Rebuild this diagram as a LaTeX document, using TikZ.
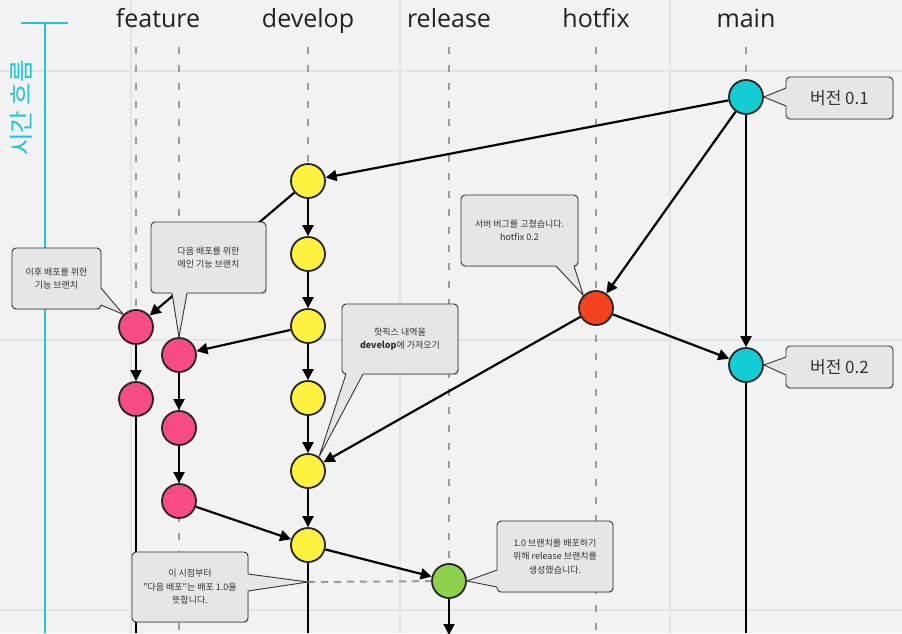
\documentclass[tikz,border=0pt]{standalone}
\usepackage{fontspec}
\setmainfont{Open Sans}
\newfontfamily\kr{Noto Sans CJK KR}
\usetikzlibrary{arrows.meta,calc,shadows}

\definecolor{bgc}{HTML}{F2F2F2}
\definecolor{gridc}{HTML}{E4E4E4}
\definecolor{lanec}{HTML}{9C9C9C}
\definecolor{axisc}{HTML}{19C9D3}
\definecolor{cmain}{HTML}{14CCD4}
\definecolor{cdev}{HTML}{FFF23F}
\definecolor{cfeat}{HTML}{F74B86}
\definecolor{chot}{HTML}{F4431F}
\definecolor{crel}{HTML}{8DD14C}
\definecolor{cofill}{HTML}{E6E6E6}
\definecolor{coline}{HTML}{333333}
\definecolor{cotext}{HTML}{333333}

\newcommand\cpointer[3]{%
  \fill[cofill] ($#1!-2.5pt!#3$) -- #3 -- ($#2!-2.5pt!#3$) -- cycle;
  \draw[coline, line width=0.9pt, line join=miter] #1 -- #3 -- #2;}

\begin{document}
\begin{tikzpicture}[x=1pt,y=-1pt,
  commit/.style={circle, draw=black!85, line width=1.8pt, minimum size=34pt, inner sep=0pt},
  arr/.style={draw=black, line width=2.2pt, -{Triangle[length=11pt,width=11pt]}},
  plain/.style={draw=black, line width=2.2pt},
  lane/.style={draw=lanec, line width=2pt, dash pattern=on 7pt off 11pt},
  gridline/.style={draw=gridc, line width=1.5pt},
  header/.style={font=\fontsize{25}{25}\selectfont, text=black!87, anchor=base},
  cobox/.style={draw=coline, line width=0.9pt, fill=cofill, rounded corners=4pt,
    font=\kr\fontsize{9}{13.5}\selectfont, text=cotext, align=center, inner sep=0pt,
    drop shadow={shadow xshift=0.8pt, shadow yshift=-1.2pt, opacity=0.25}},
  bigbox/.style={cobox, font=\kr\fontsize{17}{17}\selectfont}]

\fill[bgc] (0,0) rectangle (902,633);
\useasboundingbox (0,0) rectangle (902,633);

% grid
\foreach \gx in {131,400,670} \draw[gridline] (\gx,0) -- (\gx,633);
\foreach \gy in {71,340,610} \draw[gridline] (0,\gy) -- (902,\gy);

% lanes
\foreach \lx in {136,179,308,449,596,746} \draw[lane] (\lx,47) -- (\lx,633);

% time axis
\draw[axisc, line width=2pt] (21,23) -- (68,23);
\draw[axisc, line width=2pt] (45,23) -- (45,633);
\fill[axisc] (45,107) circle (1.6pt);
\node[rotate=90, text=axisc, font=\kr\fontsize{24.5}{24.5}\selectfont] (tlabel) at (21,108) {시간 흐름};

% headers
\node[header] (hfeat) at (158,27) {feature};
\node[header] (hdev) at (308,27) {develop};
\node[header] (hrel) at (449,27) {release};
\node[header] (hhot) at (596,27) {hotfix};
\node[header] (hmain) at (746,27) {main};

% commits
\node[commit, fill=cmain] (m1) at (746,97) {};
\node[commit, fill=cmain] (m2) at (746,365) {};
\node[commit, fill=cdev] (d1) at (308,181) {};
\node[commit, fill=cdev] (d2) at (308,254) {};
\node[commit, fill=cdev] (d3) at (308,326) {};
\node[commit, fill=cdev] (d4) at (308,398) {};
\node[commit, fill=cdev] (d5) at (308,471) {};
\node[commit, fill=cdev] (d6) at (308,545) {};
\node[commit, fill=chot] (h1) at (596,308) {};
\node[commit, fill=cfeat] (f1) at (136,327) {};
\node[commit, fill=cfeat] (f2) at (136,399) {};
\node[commit, fill=cfeat] (g1) at (179,355) {};
\node[commit, fill=cfeat] (g2) at (179,428) {};
\node[commit, fill=cfeat] (g3) at (179,501) {};
\node[commit, fill=crel] (r1) at (449,581) {};

\coordinate (fb) at (136,633);
\coordinate (db) at (308,633);
\coordinate (rb) at (449,635);
\coordinate (mb) at (746,633);
\coordinate (p7) at (308,582);

% connectors
\draw[arr] (m1) -- (d1);
\draw[arr] (m1) -- (h1);
\draw[arr] (m1) -- (m2);
\draw[arr] (h1) -- (m2);
\draw[arr] (h1) -- (d5);
\draw[arr] (d1) -- (d2);
\draw[arr] (d2) -- (d3);
\draw[arr] (d3) -- (d4);
\draw[arr] (d4) -- (d5);
\draw[arr] (d5) -- (d6);
\draw[arr] (d1) -- (f1);
\draw[arr] (d3) -- (g1);
\draw[arr] (f1) -- (f2);
\draw[plain] (f2) -- (fb);
\draw[arr] (g1) -- (g2);
\draw[arr] (g2) -- (g3);
\draw[arr] (g3) -- (d6);
\draw[arr] (d6) -- (r1);
\draw[plain] (d6) -- (db);
\draw[arr] (r1) -- (rb);
\draw[plain] (m2) -- (mb);
\draw[lane, dash pattern=on 7pt off 6pt] (p7) -- (r1);

% callouts
\node[cobox, minimum width=89pt, minimum height=61pt] (c1) at (56.5,278.5) {이후 배포를 위한\\기능 브랜치};
\cpointer{(101,288)}{(101,305)}{(f1.135)}

\node[cobox, minimum width=115pt, minimum height=71pt] (c2) at (208.5,257.5) {다음 배포를 위한\\메인 기능 브랜치};
\cpointer{(172,293)}{(187,293)}{(g1.north)}

\node[cobox, minimum width=116pt, minimum height=70pt] (c3) at (400,339) {핫픽스 내역을\\\textbf{develop}에 가져오기};
\cpointer{(346,374)}{(363,374)}{(d5.52)}

\node[cobox, minimum width=117pt, minimum height=71pt] (c4) at (519.5,230.5) {서버 버그를 고쳤습니다.\\hotfix 0.2};
\cpointer{(556,266)}{(574,266)}{(h1.135)}

\node[bigbox, minimum width=107pt, minimum height=42pt] (c5) at (839.5,98) {버전 0.1};
\cpointer{(786,88)}{(786,106)}{(m1.east)}

\node[bigbox, minimum width=107pt, minimum height=42pt] (c6) at (839.5,367) {버전 0.2};
\cpointer{(786,357)}{(786,375)}{(m2.east)}

\node[cobox, minimum width=116pt, minimum height=70pt] (c7) at (190,587) {이 시점부터\\"다음 배포"는 배포 1.0을\\뜻합니다.};
\cpointer{(248,574)}{(248,591)}{(p7)}

\node[cobox, minimum width=116pt, minimum height=71pt] (c8) at (555,556.5) {1.0 브랜치를 배포하기\\위해 release 브랜치를\\생성했습니다.};
\cpointer{(497,570)}{(497,587)}{(r1.east)}

\end{tikzpicture}
\end{document}
